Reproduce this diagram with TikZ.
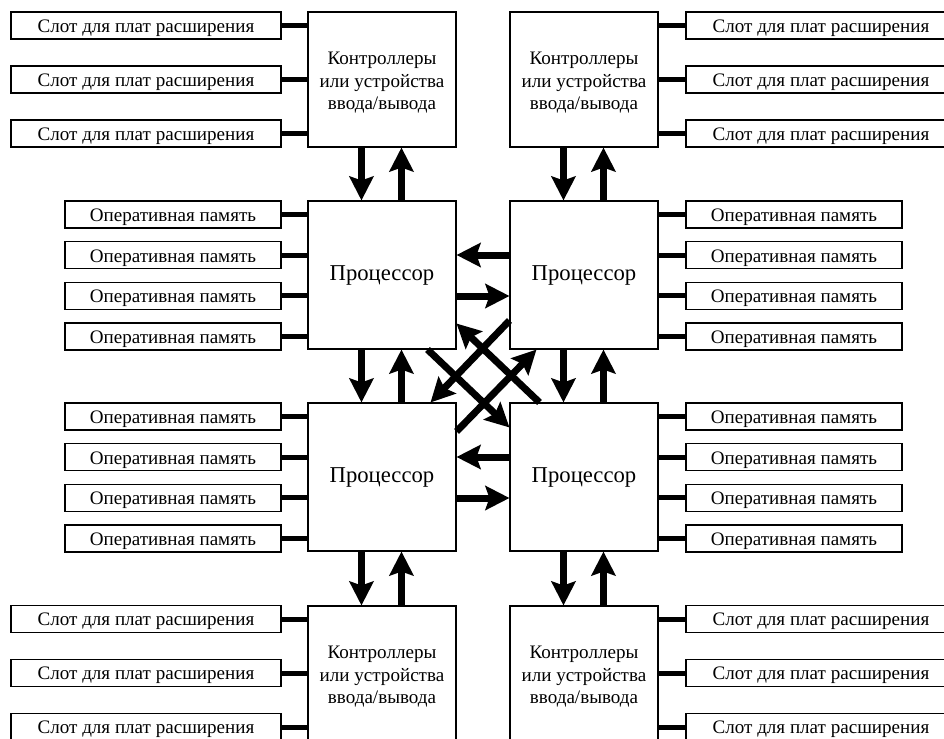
\documentclass[tikz,border=0pt]{standalone}
\usepackage{fontspec}
\setmainfont{Liberation Serif}
\usetikzlibrary{arrows.meta,calc}
\begin{document}
\begin{tikzpicture}[x=0.75pt,y=-0.75pt,
  box/.style={draw,line width=0.8pt,fill=white,inner sep=0pt,align=center},
  slotbox/.style={box,minimum width=202.5pt,minimum height=20.25pt,text height=15.25pt,text depth=5pt,font=\fontsize{14.3}{17}\selectfont},
  membox/.style={box,minimum width=162pt,minimum height=20.25pt,text height=15.25pt,text depth=5pt,font=\fontsize{14.3}{17}\selectfont},
  procbox/.style={box,minimum width=111pt,minimum height=111pt,font=\fontsize{17}{20}\selectfont},
  ctrlbox/.style={box,minimum width=111pt,minimum height=101.25pt},
  ctrltext/.style={inner sep=0pt,align=center,yshift=-2.5pt,font=\fontsize{14.3}{17}\selectfont},
  link/.style={line width=3.75pt},
  arr/.style={line width=5.25pt,-{Stealth[length=18pt,width=18pt,inset=3pt]}}]
\useasboundingbox (0,0) rectangle (944,738);
\clip (0,0) rectangle (944,738);
% processors
\node[procbox] (p1) at (382,275) {Процессор};
\node[procbox] (p2) at (584,275) {Процессор};
\node[procbox] (p3) at (382,477) {Процессор};
\node[procbox] (p4) at (584,477) {Процессор};
% controllers
\node[ctrlbox,label={[ctrltext]center:{Контроллеры\\или устройства\\ввода/вывода}}] (c1) at (382,79.5) {};
\node[ctrlbox,label={[ctrltext]center:{Контроллеры\\или устройства\\ввода/вывода}}] (c2) at (584,79.5) {};
\node[ctrlbox,label={[ctrltext]center:{Контроллеры\\или устройства\\ввода/вывода}}] (c3) at (382,673.5) {};
\node[ctrlbox,label={[ctrltext]center:{Контроллеры\\или устройства\\ввода/вывода}}] (c4) at (584,673.5) {};
% slots
\foreach \i/\y in {1/25.5,2/79.5,3/133.5}{
  \node[slotbox] (sa\i) at (146,\y) {Слот для плат расширения};
  \draw[link] (sa\i.east) -- (sa\i.east -| c1.west);
  \node[slotbox] (sb\i) at (821,\y) {Слот для плат расширения};
  \draw[link] (sb\i.west) -- (sb\i.west -| c2.east);
}
\foreach \i/\y in {1/619,2/673,3/727}{
  \node[slotbox] (sc\i) at (146,\y) {Слот для плат расширения};
  \draw[link] (sc\i.east) -- (sc\i.east -| c3.west);
  \node[slotbox] (sd\i) at (821,\y) {Слот для плат расширения};
  \draw[link] (sd\i.west) -- (sd\i.west -| c4.east);
}
% memory
\foreach \i/\y in {1/214.5,2/255.2,3/295.8,4/336.5}{
  \node[membox] (ma\i) at (173,\y) {Оперативная память};
  \draw[link] (ma\i.east) -- (ma\i.east -| p1.west);
  \node[membox] (mb\i) at (794,\y) {Оперативная память};
  \draw[link] (mb\i.west) -- (mb\i.west -| p2.east);
}
\foreach \i/\y in {1/416.5,2/457.2,3/497.8,4/538.5}{
  \node[membox] (mc\i) at (173,\y) {Оперативная память};
  \draw[link] (mc\i.east) -- (mc\i.east -| p3.west);
  \node[membox] (md\i) at (794,\y) {Оперативная память};
  \draw[link] (md\i.west) -- (md\i.west -| p4.east);
}
% vertical arrows controller <-> processor
\draw[arr] ($(c1.south west)+(54,0)$) -- ($(p1.north west)+(54,0)$);
\draw[arr] ($(p1.north west)+(94,0)$) -- ($(c1.south west)+(94,0)$);
\draw[arr] ($(c2.south west)+(54,0)$) -- ($(p2.north west)+(54,0)$);
\draw[arr] ($(p2.north west)+(94,0)$) -- ($(c2.south west)+(94,0)$);
\draw[arr] ($(p3.south west)+(54,0)$) -- ($(c3.north west)+(54,0)$);
\draw[arr] ($(c3.north west)+(94,0)$) -- ($(p3.south west)+(94,0)$);
\draw[arr] ($(p4.south west)+(54,0)$) -- ($(c4.north west)+(54,0)$);
\draw[arr] ($(c4.north west)+(94,0)$) -- ($(p4.south west)+(94,0)$);
% vertical arrows processor <-> processor
\draw[arr] ($(p1.south west)+(54,0)$) -- ($(p3.north west)+(54,0)$);
\draw[arr] ($(p3.north west)+(94,0)$) -- ($(p1.south west)+(94,0)$);
\draw[arr] ($(p2.south west)+(54,0)$) -- ($(p4.north west)+(54,0)$);
\draw[arr] ($(p4.north west)+(94,0)$) -- ($(p2.south west)+(94,0)$);
% horizontal arrows
\draw[arr] ($(p2.west)+(0,-20)$) -- ($(p1.east)+(0,-20)$);
\draw[arr] ($(p1.east)+(0,21)$) -- ($(p2.west)+(0,21)$);
\draw[arr] ($(p4.west)+(0,-20)$) -- ($(p3.east)+(0,-20)$);
\draw[arr] ($(p3.east)+(0,21)$) -- ($(p4.west)+(0,21)$);
% diagonal arrows
\draw[arr] ($(p1.south east)+(-29,0)$) -- ($(p4.north west)+(0,25)$);
\draw[arr] ($(p4.north west)+(30,0)$) -- ($(p1.south east)+(0,-26)$);
\draw[arr] ($(p2.south west)+(0,-29)$) -- ($(p3.north east)+(-26,0)$);
\draw[arr] ($(p3.north east)+(0,29)$) -- ($(p2.south west)+(27,0)$);
\end{tikzpicture}
\end{document}
